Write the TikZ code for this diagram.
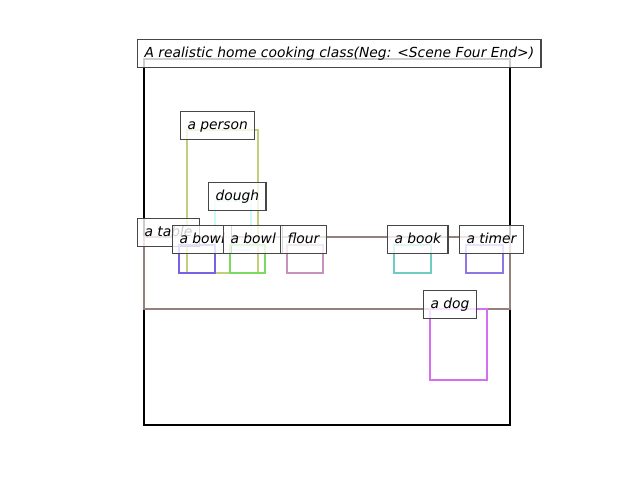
\documentclass[tikz,border=0pt]{standalone}
\usepackage{fontspec}
\setmainfont{DejaVu Sans}
\usepackage{xcolor}
\definecolor{framecol}{RGB}{0,0,0}
\definecolor{personcol}{RGB}{196,206,120}
\definecolor{doughcol}{RGB}{204,248,252}
\definecolor{tablecol}{RGB}{150,128,124}
\definecolor{bowlAcol}{RGB}{118,98,228}
\definecolor{bowlBcol}{RGB}{124,218,96}
\definecolor{flourcol}{RGB}{196,146,188}
\definecolor{bookcol}{RGB}{112,204,192}
\definecolor{timercol}{RGB}{142,118,230}
\definecolor{dogcol}{RGB}{212,112,240}
\definecolor{lblborder}{RGB}{70,70,70}

\begin{document}
\begin{tikzpicture}[
  x=0.01in, y=-0.01in,
  obj/.style={draw=#1, line width=2pt},
  lbl/.style={draw=lblborder, line width=0.9pt, fill=white, fill opacity=0.8, text opacity=1,
    anchor=south west, text height=13.2pt, text depth=6.96pt, inner xsep=5pt, inner ysep=0pt,
    font=\fontsize{10}{12}\selectfont\itshape}
]
\useasboundingbox (0,0) rectangle (640,480);

% scene frame and caption
\draw[obj=framecol] (144,59) rectangle (510,425);
\node[lbl] (caption) at (137,68) {A realistic home cooking class(Neg: <Scene Four End>)};

% objects
\draw[obj=personcol] (187,130) rectangle (258,273);
\node[lbl] (person) at (180,140) {a person};

\draw[obj=doughcol] (215,201) rectangle (251,250);
\node[lbl] (dough) at (208,211) {dough};

\draw[obj=tablecol] (144,237) rectangle (510,309);
\node[lbl] (table) at (137,247) {a table};

\draw[obj=bowlAcol] (179,245) rectangle (215,273);
\node[lbl] (bowlA) at (172,254) {a bowl};

\draw[obj=bowlBcol] (230,245) rectangle (265,273);
\node[lbl] (bowlB) at (223,254) {a bowl};

\draw[obj=flourcol] (287,245) rectangle (323,273);
\node[lbl] (flour) at (280,254) {flour};

\draw[obj=bookcol] (394,245) rectangle (431,273);
\node[lbl] (book) at (387,254) {a book};

\draw[obj=timercol] (466,245) rectangle (503,273);
\node[lbl] (timer) at (459,254) {a timer};

\draw[obj=dogcol] (430,309) rectangle (487,380);
\node[lbl] (dog) at (423,319) {a dog};
\end{tikzpicture}
\end{document}
